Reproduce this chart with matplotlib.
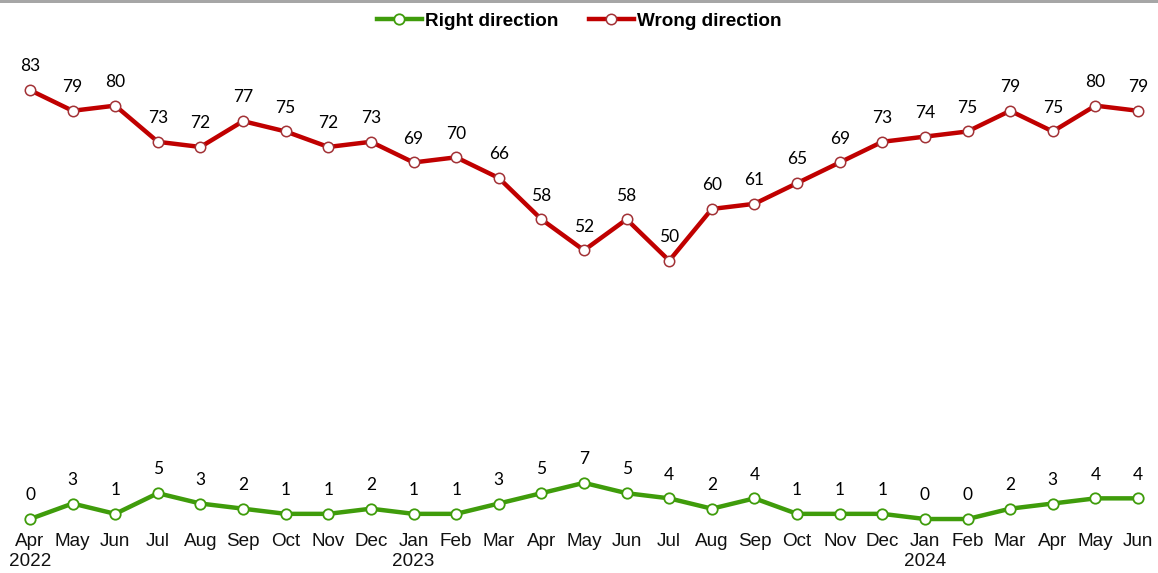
import matplotlib
matplotlib.use("Agg")
import matplotlib.pyplot as plt
from matplotlib.patches import Rectangle

# months Apr 2022 - Jun 2024
months = ["Apr", "May", "Jun", "Jul", "Aug", "Sep", "Oct", "Nov", "Dec",
          "Jan", "Feb", "Mar", "Apr", "May", "Jun", "Jul", "Aug", "Sep",
          "Oct", "Nov", "Dec", "Jan", "Feb", "Mar", "Apr", "May", "Jun"]
years = {0: "2022", 9: "2023", 21: "2024"}

right_direction = [0, 3, 1, 5, 3, 2, 1, 1, 2, 1, 1, 3, 5, 7, 5, 4, 2, 4,
                   1, 1, 1, 0, 0, 2, 3, 4, 4]
wrong_direction = [83, 79, 80, 73, 72, 77, 75, 72, 73, 69, 70, 66, 58, 52,
                   58, 50, 60, 61, 65, 69, 73, 74, 75, 79, 75, 80, 79]

tick_labels = [m + ("\n" + years[i] if i in years else "") for i, m in enumerate(months)]

green = "#3f9c0b"
red = "#c00000"
red_edge = "#a23236"

fig = plt.figure(figsize=(11.58, 5.73), dpi=100)
ax = fig.add_axes([0, 1 - 523 / 573, 1, (523 - 40) / 573])

x = list(range(len(months)))
ax.plot(x, right_direction, color=green, lw=3.2, marker="o", ms=7.5,
        mfc="white", mec=green, mew=1.3, label="Right direction", zorder=3,
        clip_on=False)
ax.plot(x, wrong_direction, color=red, lw=3.2, marker="o", ms=7.5,
        mfc="white", mec=red_edge, mew=1.1, label="Wrong direction", zorder=3,
        clip_on=False)

# data labels
for series in (right_direction, wrong_direction):
    for xi, v in zip(x, series):
        ax.annotate(str(v), (xi, v), xytext=(0, 13.5), textcoords="offset points",
                    ha="center", va="baseline", fontsize=12.5, family="Lato",
                    color="black")

ax.set_xlim(-30 / 42.615, 26 + 20 / 42.615)
ax.set_ylim(-0.77, 92.7)
ax.set_xticks(x)
ax.set_xticklabels(tick_labels, fontsize=13.6, family="Liberation Sans", color="#111111")
ax.tick_params(axis="x", length=0, pad=7.5)
ax.set_yticks([])
for s in ax.spines.values():
    s.set_visible(False)

leg = fig.legend(loc="center", bbox_to_anchor=(0.5, 1 - 21 / 573), ncol=2,
                 frameon=False, handlelength=2.4, handletextpad=0.15,
                 columnspacing=1.6,
                 prop={"family": "Liberation Sans", "weight": "bold", "size": 13.6})

# grey top border
fig.add_artist(Rectangle((0, 1 - 3 / 573), 1, 3 / 573, transform=fig.transFigure,
                         color="#a6a6a6", lw=0))

fig.savefig("out.png", dpi=100)
